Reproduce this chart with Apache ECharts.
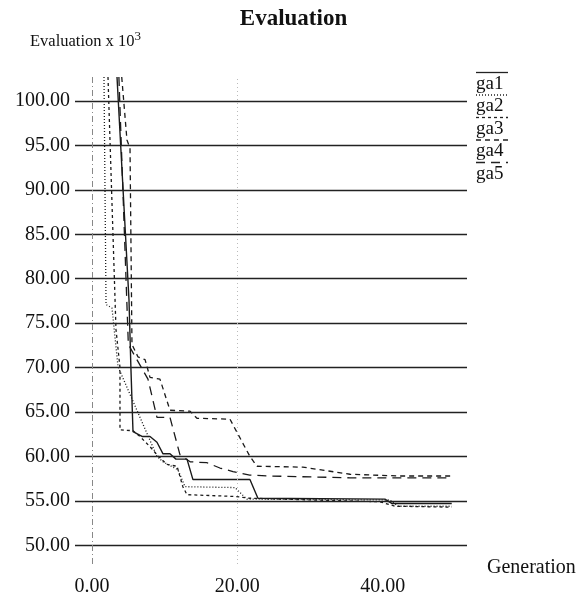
<!DOCTYPE html>
<html><head><meta charset="utf-8">
<script src="https://cdn.jsdelivr.net/npm/echarts@6/dist/echarts.min.js"></script>
<style>html,body{margin:0;padding:0;background:#fff}#c{width:587px;height:597px}</style>
</head><body><div id="c"></div>
<script>
// [generation, evaluation x 10^3]
const ga1 = [[3.44,102.7],[5.09,77.6],[5.36,69.8],[5.64,62.8],[6.88,62.25],[7.98,62.25],[8.94,61.6],[9.77,60.3],[10.73,60.3],[11.55,59.7],[13.07,59.7],[13.89,57.4],[21.73,57.4],[22.83,55.3],[40.3,55.2],[41.3,54.7],[49.5,54.7]];
const ga2 = [[1.65,102.7],[1.93,77.1],[2.75,76.7],[3.58,70.1],[8.94,60.0],[9.77,59.4],[11.83,58.5],[12.79,56.6],[19.67,56.5],[21.3,55.2],[41.0,55.1],[42.1,54.4],[49.5,54.4]];
const ga3 = [[2.2,102.7],[3.3,74.3],[3.85,70.0],[3.85,63.0],[5.64,62.9],[6.6,62.25],[7.98,61.1],[8.94,60.2],[10.3,59.1],[11.7,58.9],[12.5,56.6],[13.07,55.7],[19.67,55.5],[21.73,55.3],[39.6,54.9],[41.7,54.4],[49.5,54.3]];
const ga4 = [[4.09,102.7],[4.81,95.6],[5.23,94.7],[5.5,72.6],[6.33,71.2],[7.3,70.9],[7.98,68.9],[9.35,68.7],[10.73,65.2],[13.48,65.1],[14.44,64.3],[18.98,64.2],[21.73,60.0],[22.7,58.9],[29.0,58.8],[35.5,58.0],[42.4,57.8],[49.5,57.8]];
const ga5 = [[3.7,102.7],[5.0,72.6],[7.7,68.7],[8.94,64.4],[10.73,64.4],[12.1,60.2],[13.5,59.4],[15.8,59.3],[17.6,58.7],[19.4,58.3],[21.7,57.9],[24.5,57.8],[35.5,57.6],[49.5,57.6]];
const seriesNames = ['ga1','ga2','ga3','ga4','ga5'];
const yTicks = [50,55,60,65,70,75,80,85,90,95,100];
const xTicks = [0,20,40];

const FONT = '"Liberation Serif", "DejaVu Serif", serif';
const dashes = ['solid',[1,2],[3,3],[5,4],[9,6]];
const dataList = [ga1,ga2,ga3,ga4,ga5];

const series = dataList.map((d,i)=>({
  name: seriesNames[i], type:'line', data:d, symbol:'none', silent:true,
  lineStyle:{color:'#1a1a1a', width: i===0?1.4:1.3, type: dashes[i]},
  animation:false, z: 3
}));
series.push({
  type:'line', data:[], silent:true, animation:false, z:1,
  markLine:{symbol:'none', silent:true, animation:false, label:{show:false},
    data: yTicks.map(v=>({yAxis:v, lineStyle:{color:'#222', width:1.4, type:'solid'}}))
      .concat([{xAxis:0, lineStyle:{color:'#888', width:1, type:[6,3,1,3]}},
               {xAxis:20, lineStyle:{color:'#bbb', width:1, type:[1,3]}}])
  }
});

const LEG_TOP = 69.5, LEG_STEP = 22.5;
const legends = seriesNames.map((n,i)=>({
  data:[n], left:470, top: LEG_TOP + i*LEG_STEP, itemWidth:32, itemHeight:4,
  textStyle:{fontFamily:FONT, fontSize:19, color:'#111', padding:[24,0,0,-37]},
  itemStyle:{opacity:0}, lineStyle:{opacity:0},
  selectedMode:false
}));
// legend sample strokes drawn over each label (as in the original)
const legendMarks = seriesNames.map((n,i)=>({
  type:'line', silent:true,
  shape:{x1:476, y1:72.5 + i*LEG_STEP, x2:508, y2:72.5 + i*LEG_STEP},
  style:{stroke:'#222', lineWidth:1.3, lineDash: dashes[i]==='solid'?null:dashes[i]}
}));

const chart = echarts.init(document.getElementById('c'));
chart.setOption({
  animation:false,
  backgroundColor:'#fff',
  title:{text:'Evaluation', left:'center', top:3, textStyle:{fontFamily:FONT, fontSize:23, fontWeight:'bold', color:'#111'}},
  legend: legends,
  graphic: legendMarks,
  grid:{left:75, right:120, top:77, bottom:32},
  xAxis:{type:'value', min:-2.34, max:51.6,
    axisLine:{show:false}, axisTick:{show:false}, splitLine:{show:false},
    axisLabel:{customValues:xTicks, formatter:v=>v.toFixed(2), fontFamily:FONT, fontSize:20, color:'#111', margin:13},
    name:'Generation', nameLocation:'end', nameGap:20,
    nameTextStyle:{fontFamily:FONT, fontSize:20, color:'#111', verticalAlign:'top', lineHeight:8}
  },
  yAxis:{type:'value', min:47.9, max:102.7,
    axisLine:{show:false}, axisTick:{show:false}, splitLine:{show:false},
    axisLabel:{customValues:yTicks, formatter:v=>v.toFixed(2), fontFamily:FONT, fontSize:20, color:'#111', margin:5},
    name:'Evaluation x 10{sup|3}', nameLocation:'end', nameGap:35,
    nameTextStyle:{fontFamily:FONT, fontSize:16.5, color:'#111', align:'left', verticalAlign:'middle', padding:[0,0,0,-62],
      rich:{sup:{fontFamily:FONT, fontSize:13, color:'#111', padding:[0,0,10,0]}}}
  },
  series: series
});
</script></body></html>
